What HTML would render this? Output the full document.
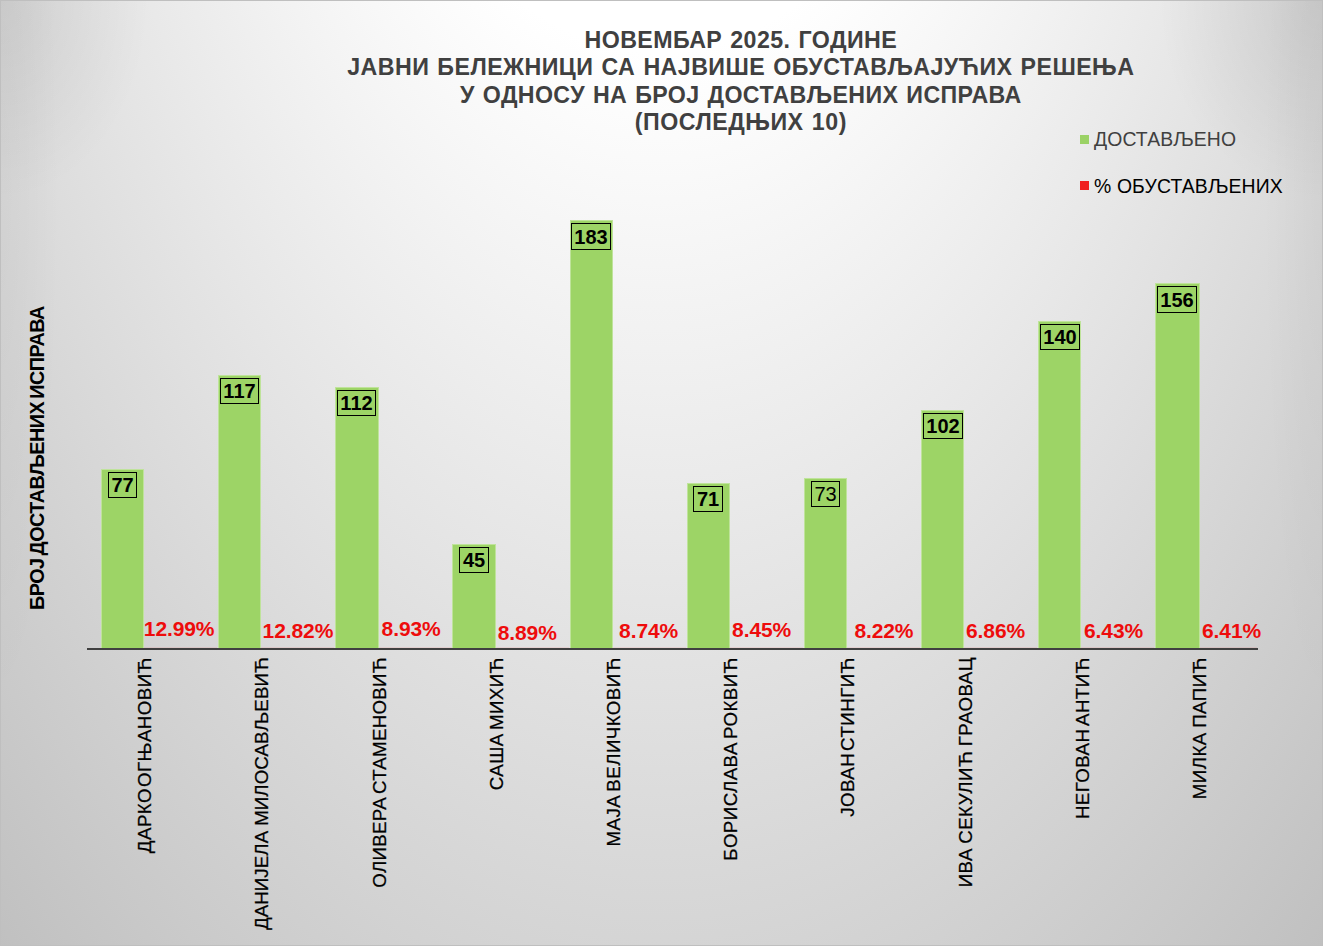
<!DOCTYPE html>
<html lang="sr"><head><meta charset="utf-8"><title>Chart</title>
<style>
html,body{margin:0;padding:0;}
body{width:1323px;height:946px;overflow:hidden;position:relative;font-family:"Liberation Sans",sans-serif;background:#d4d4d4;}
#bg{position:absolute;left:0;top:0;width:1323px;height:946px;
 background:
  radial-gradient(ellipse 150px 200px at 0px 0px,rgba(0,0,0,0.075),rgba(0,0,0,0) 100%),
  radial-gradient(ellipse 165px 200px at 1323px 0px,rgba(0,0,0,0.09),rgba(0,0,0,0) 100%),
  radial-gradient(ellipse 60px 520px at 0px 200px,rgba(0,0,0,0.03),rgba(0,0,0,0) 100%),
  radial-gradient(ellipse 60px 520px at 1323px 200px,rgba(0,0,0,0.03),rgba(0,0,0,0) 100%),
  radial-gradient(ellipse 1069px 2031px at 660px -650px,#ffffff 0%,#ffffff 34.6%,#c0c0c0 100%);}
#frame{position:absolute;left:0;top:0;width:1321px;height:944px;border:1px solid #bfbfbf;}
.t{position:absolute;white-space:nowrap;}
.title{position:absolute;text-align:center;font-weight:bold;color:#404040;white-space:nowrap;}
.bar{position:absolute;background:#9dd466;box-sizing:border-box;border:1px solid #bfe39b;border-bottom:none;}
.dl{position:absolute;box-sizing:border-box;border:1px solid #000;font-weight:bold;color:#000;text-align:center;white-space:nowrap;}
.pct{position:absolute;font-weight:bold;color:#ee0c0c;white-space:nowrap;}
.cat{position:absolute;white-space:nowrap;color:#000;-webkit-text-stroke:0.25px #000;transform-origin:0 0;transform:rotate(-90deg);text-align:right;}

</style></head><body>
<div id="bg"></div><div id="frame"></div>
<div class="title" id="tl0" style="left:140.79999999999995px;width:1200px;top:27.00px;font-size:23.2px;line-height:27.4px;letter-spacing:0.43px;word-spacing:1.2px;transform:scaleY(1.045);transform-origin:50% 78%;">НОВЕМБАР 2025. ГОДИНЕ</div>
<div class="title" id="tl1" style="left:140.79999999999995px;width:1200px;top:54.40px;font-size:23.2px;line-height:27.4px;letter-spacing:0.46px;word-spacing:1.2px;transform:scaleY(1.045);transform-origin:50% 78%;">ЈАВНИ БЕЛЕЖНИЦИ СА НАЈВИШЕ ОБУСТАВЉАЈУЋИХ РЕШЕЊА</div>
<div class="title" id="tl2" style="left:140.79999999999995px;width:1200px;top:81.80px;font-size:23.2px;line-height:27.4px;letter-spacing:0.38px;word-spacing:1.2px;transform:scaleY(1.045);transform-origin:50% 78%;">У ОДНОСУ НА БРОЈ ДОСТАВЉЕНИХ ИСПРАВА</div>
<div class="title" id="tl3" style="left:140.79999999999995px;width:1200px;top:109.20px;font-size:23.2px;line-height:27.4px;letter-spacing:0.53px;word-spacing:1.2px;transform:scaleY(1.045);transform-origin:50% 78%;">(ПОСЛЕДЊИХ 10)</div>
<div style="position:absolute;left:1080px;top:135px;width:9px;height:9px;background:#9bd266;"></div>
<div class="t" id="lg0" style="left:1094px;top:127.5px;font-size:19.4px;line-height:22px;letter-spacing:0.1px;color:#404040;">ДОСТАВЉЕНО</div>
<div style="position:absolute;left:1080px;top:181px;width:9px;height:9px;background:#f02020;"></div>
<div class="t" id="lg1" style="left:1094px;top:174.5px;font-size:19.4px;line-height:22px;letter-spacing:0.13px;color:#000;">% ОБУСТАВЉЕНИХ</div>
<div class="cat" id="yt" style="left:25.5px;top:610px;width:304px;font-size:19.8px;line-height:22px;font-weight:bold;letter-spacing:-0.5px;word-spacing:-2px;text-align:left;-webkit-text-stroke:0;">БРОЈ ДОСТАВЉЕНИХ ИСПРАВА</div>
<div class="bar" style="left:100.50px;top:468.83px;width:43.80px;height:179.17px;"></div>
<div style="position:absolute;left:144.30px;top:647.00px;width:73.0px;height:1px;background:rgba(255,0,0,0.07);"></div>
<div class="dl" id="dl0" style="left:108px;top:472px;width:29px;height:26px;font-size:20.0px;line-height:24px;">77</div>
<div class="pct" id="pc0" style="left:143.80px;top:616.50px;font-size:21.0px;line-height:24px;letter-spacing:-0.1px;">12.99%</div>
<div class="bar" style="left:217.80px;top:374.97px;width:43.50px;height:273.03px;"></div>
<div style="position:absolute;left:261.30px;top:647.00px;width:73.0px;height:1px;background:rgba(255,0,0,0.07);"></div>
<div class="dl" id="dl1" style="left:220px;top:378px;width:39px;height:26px;font-size:20.0px;line-height:24px;">117</div>
<div class="pct" id="pc1" style="left:262.60px;top:618.90px;font-size:21.0px;line-height:24px;letter-spacing:-0.1px;">12.82%</div>
<div class="bar" style="left:335.00px;top:386.70px;width:44.20px;height:261.30px;"></div>
<div style="position:absolute;left:379.20px;top:647.00px;width:73.0px;height:1px;background:rgba(255,0,0,0.07);"></div>
<div class="dl" id="dl2" style="left:337px;top:390px;width:39px;height:26px;font-size:20.0px;line-height:24px;">112</div>
<div class="pct" id="pc2" style="left:381.60px;top:616.50px;font-size:21.0px;line-height:24px;letter-spacing:-0.1px;">8.93%</div>
<div class="bar" style="left:452.40px;top:543.91px;width:43.30px;height:104.09px;"></div>
<div style="position:absolute;left:495.70px;top:647.00px;width:73.0px;height:1px;background:rgba(255,0,0,0.07);"></div>
<div class="dl" id="dl3" style="left:459px;top:547px;width:30px;height:26px;font-size:20.0px;line-height:24px;">45</div>
<div class="pct" id="pc3" style="left:497.70px;top:620.60px;font-size:21.0px;line-height:24px;letter-spacing:-0.1px;">8.89%</div>
<div class="bar" style="left:570.10px;top:220.11px;width:42.90px;height:427.89px;"></div>
<div style="position:absolute;left:613.00px;top:647.00px;width:73.0px;height:1px;background:rgba(255,0,0,0.07);"></div>
<div class="dl" id="dl4" style="left:571px;top:223px;width:40px;height:27px;font-size:20.0px;line-height:27px;">183</div>
<div class="pct" id="pc4" style="left:619.10px;top:618.90px;font-size:21.0px;line-height:24px;letter-spacing:-0.1px;">8.74%</div>
<div class="bar" style="left:687.30px;top:482.91px;width:43.10px;height:165.09px;"></div>
<div style="position:absolute;left:730.40px;top:647.00px;width:73.0px;height:1px;background:rgba(255,0,0,0.07);"></div>
<div class="dl" id="dl5" style="left:693px;top:486px;width:30px;height:26px;font-size:20.0px;line-height:24px;">71</div>
<div class="pct" id="pc5" style="left:732.10px;top:618.20px;font-size:21.0px;line-height:24px;letter-spacing:-0.1px;">8.45%</div>
<div class="bar" style="left:804.20px;top:478.21px;width:43.20px;height:169.79px;"></div>
<div style="position:absolute;left:847.40px;top:647.00px;width:73.0px;height:1px;background:rgba(255,0,0,0.07);"></div>
<div class="dl" id="dl6" style="left:811px;top:481px;width:29px;height:26px;font-size:20.0px;line-height:24px;font-weight:normal;">73</div>
<div class="pct" id="pc6" style="left:854.40px;top:618.70px;font-size:21.0px;line-height:24px;letter-spacing:-0.1px;">8.22%</div>
<div class="bar" style="left:921.20px;top:410.17px;width:42.60px;height:237.83px;"></div>
<div style="position:absolute;left:963.80px;top:647.00px;width:73.0px;height:1px;background:rgba(255,0,0,0.07);"></div>
<div class="dl" id="dl7" style="left:923px;top:413px;width:40px;height:26px;font-size:20.0px;line-height:24px;">102</div>
<div class="pct" id="pc7" style="left:966.00px;top:618.70px;font-size:21.0px;line-height:24px;letter-spacing:-0.1px;">6.86%</div>
<div class="bar" style="left:1038.00px;top:321.00px;width:43.10px;height:327.00px;"></div>
<div style="position:absolute;left:1081.10px;top:647.00px;width:73.0px;height:1px;background:rgba(255,0,0,0.07);"></div>
<div class="dl" id="dl8" style="left:1040px;top:324px;width:40px;height:26px;font-size:20.0px;line-height:24px;">140</div>
<div class="pct" id="pc8" style="left:1084.00px;top:618.70px;font-size:21.0px;line-height:24px;letter-spacing:-0.1px;">6.43%</div>
<div class="bar" style="left:1155.30px;top:283.46px;width:44.30px;height:364.54px;"></div>
<div style="position:absolute;left:1199.60px;top:647.00px;width:57.9px;height:1px;background:rgba(255,0,0,0.07);"></div>
<div class="dl" id="dl9" style="left:1157px;top:286px;width:40px;height:27px;font-size:20.0px;line-height:27px;">156</div>
<div class="pct" id="pc9" style="left:1202.00px;top:618.70px;font-size:21.0px;line-height:24px;letter-spacing:-0.1px;">6.41%</div>
<div style="position:absolute;left:86.5px;top:648.0px;width:1171px;height:2px;background:#404040;"></div>
<div class="cat" id="ct0" style="left:134.10px;top:957.20px;width:300px;font-size:18.7px;line-height:22px;letter-spacing:0.45px;word-spacing:-4.5px;">ДАРКО ОГЊАНОВИЋ</div>
<div class="cat" id="ct1" style="left:251.30px;top:957.20px;width:300px;font-size:18.7px;line-height:22px;letter-spacing:0.08px;word-spacing:-0.3px;">ДАНИЈЕЛА МИЛОСАВЉЕВИЋ</div>
<div class="cat" id="ct2" style="left:368.50px;top:957.20px;width:300px;font-size:18.7px;line-height:22px;letter-spacing:0.29px;word-spacing:-2.4px;">ОЛИВЕРА СТАМЕНОВИЋ</div>
<div class="cat" id="ct3" style="left:485.70px;top:957.20px;width:300px;font-size:18.7px;line-height:22px;letter-spacing:0.45px;word-spacing:-2.4px;">САША МИХИЋ</div>
<div class="cat" id="ct4" style="left:602.90px;top:957.20px;width:300px;font-size:18.7px;line-height:22px;letter-spacing:0.45px;word-spacing:-2.5px;">МАЈА ВЕЛИЧКОВИЋ</div>
<div class="cat" id="ct5" style="left:720.10px;top:957.20px;width:300px;font-size:18.7px;line-height:22px;letter-spacing:0.45px;word-spacing:-2.5px;">БОРИСЛАВА РОКВИЋ</div>
<div class="cat" id="ct6" style="left:837.30px;top:957.20px;width:300px;font-size:18.7px;line-height:22px;letter-spacing:0.45px;word-spacing:-3.6px;">ЈОВАН СТИНГИЋ</div>
<div class="cat" id="ct7" style="left:954.50px;top:957.20px;width:300px;font-size:18.7px;line-height:22px;letter-spacing:0.45px;word-spacing:-1.2px;">ИВА СЕКУЛИЋ ГРАОВАЦ</div>
<div class="cat" id="ct8" style="left:1071.70px;top:957.20px;width:300px;font-size:18.7px;line-height:22px;letter-spacing:0.45px;word-spacing:-3.1px;">НЕГОВАН АНТИЋ</div>
<div class="cat" id="ct9" style="left:1188.90px;top:957.20px;width:300px;font-size:18.7px;line-height:22px;letter-spacing:0.45px;word-spacing:-1.1px;">МИЛКА ПАПИЋ</div>
</body></html>
